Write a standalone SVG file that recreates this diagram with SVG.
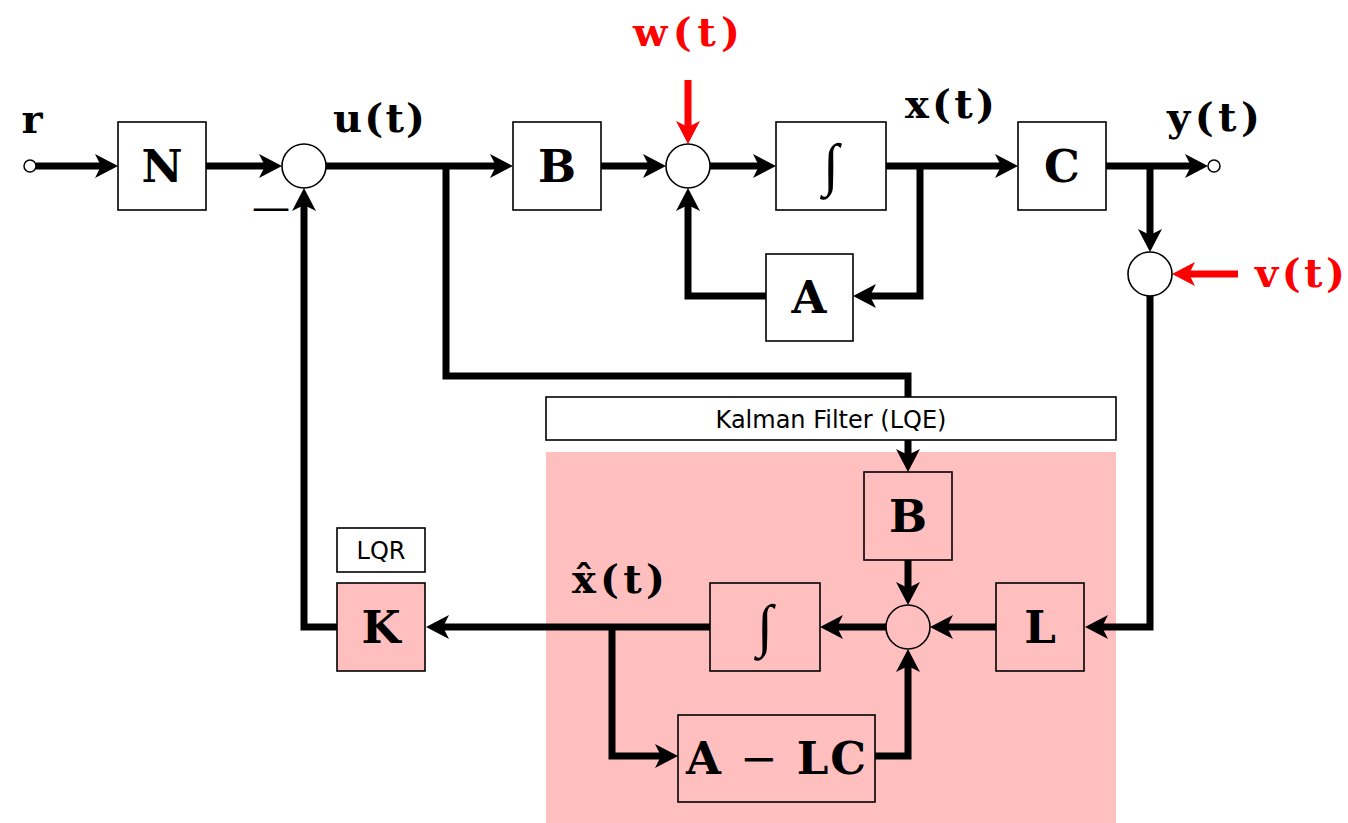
<svg xmlns="http://www.w3.org/2000/svg" width="1348" height="823" viewBox="0 0 1348 823">
<style>
.box{fill:#fff;stroke:#000;stroke-width:1.6}
.pbox{fill:#FFBFBF;stroke:#000;stroke-width:1.6}
.sum{fill:#fff;stroke:#000;stroke-width:1.6}
.psum{fill:#FFBFBF;stroke:#000;stroke-width:1.6}
.term{fill:#fff;stroke:#000;stroke-width:1.5}
.wa{fill:none;stroke:#000;stroke-width:7;stroke-linejoin:miter;marker-end:url(#ah)}
.ra{fill:none;stroke:#f00;stroke-width:7;marker-end:url(#rah)}
.bt{font-family:"DejaVu Serif",serif;font-weight:bold;font-size:45px;text-anchor:middle}
.lb{font-family:"DejaVu Serif",serif;font-weight:bold;font-size:40px}
.red{fill:#f00}
.int{font-family:"Liberation Serif",serif;font-size:58px;text-anchor:middle}
.sans{font-family:"DejaVu Sans",sans-serif;font-size:24px;text-anchor:middle}
.minus{font-family:"DejaVu Serif",serif;font-size:38px}
.thin{font-weight:normal}
</style>
<defs>
<marker id="ah" markerUnits="userSpaceOnUse" viewBox="-12 -13 25 26" markerWidth="25" markerHeight="26" refX="0" refY="0" orient="auto">
<path d="M12,0 L-11,-12 L-5,0 L-11,12 Z" fill="#000"/>
</marker>
<marker id="rah" markerUnits="userSpaceOnUse" viewBox="-12 -13 25 26" markerWidth="25" markerHeight="26" refX="0" refY="0" orient="auto">
<path d="M12,0 L-11,-12 L-5,0 L-11,12 Z" fill="#f00"/>
</marker>
</defs>
<rect id="kalman-region" x="546" y="452" width="570" height="371" fill="#FFBFBF"/>
<g id="connectors">
<path class="wa" d="M36,166 H106"/>
<path class="wa" d="M206,166 H270"/>
<path class="wa" d="M326,166 H501"/>
<path class="wa" d="M446,166 V376 H908 V460"/>
<path class="wa" d="M601,166 H654"/>
<path class="ra" d="M688,80 V132"/>
<path class="wa" d="M710,166 H764"/>
<path class="wa" d="M886,166 H1006"/>
<path class="wa" d="M920,166 V296 H865"/>
<path class="wa" d="M766,296 H688 V200"/>
<path class="wa" d="M1106,166 H1196"/>
<path class="wa" d="M1150,166 V240"/>
<path class="ra" d="M1238,274 H1184"/>
<path class="wa" d="M1150,296 V627 H1097"/>
<path class="wa" d="M996,627 H942"/>
<path class="wa" d="M908,560 V593"/>
<path class="wa" d="M886,627 H832"/>
<path class="wa" d="M710,627 H438"/>
<path class="wa" d="M612,627 V756 H666"/>
<path class="wa" d="M875,756 H908 V661"/>
<path class="wa" d="M337,627 H304 V200"/>
</g>
<g id="r-in"><circle class="term" cx="30" cy="166" r="6"/><text class="lb" x="32" y="133" text-anchor="middle">r</text></g>
<g id="N"><rect class="box" x="118" y="122" width="88" height="88"/><text class="bt" x="162" y="182">N</text></g>
<g id="sum1"><circle class="sum" cx="304" cy="166" r="22"/><text class="minus" x="252" y="220" textLength="38" lengthAdjust="spacingAndGlyphs">—</text></g>
<g id="u-label"><text class="lb" x="333" y="132" textLength="92" lengthAdjust="spacing">u(t)</text></g>
<g id="B"><rect class="box" x="513" y="122" width="88" height="88"/><text class="bt" x="557" y="182">B</text></g>
<g id="sum2"><circle class="sum" cx="688" cy="166" r="22"/></g>
<g id="w-label"><text class="lb red" x="633" y="46" textLength="107" lengthAdjust="spacing">w(t)</text></g>
<g id="integrator"><rect class="box" x="776" y="122" width="110" height="88"/><text class="int" x="831" y="184">∫</text></g>
<g id="x-label"><text class="lb" x="905" y="118" textLength="90" lengthAdjust="spacing">x(t)</text></g>
<g id="A"><rect class="box" x="766" y="254" width="87" height="87"/><text class="bt" x="809" y="313">A</text></g>
<g id="C"><rect class="box" x="1018" y="122" width="88" height="88"/><text class="bt" x="1062" y="182">C</text></g>
<g id="y-out"><circle class="term" cx="1214" cy="166" r="6"/><text class="lb" x="1167" y="131" textLength="93" lengthAdjust="spacing">y(t)</text></g>
<g id="sum3"><circle class="sum" cx="1150" cy="274" r="22"/></g>
<g id="v-label"><text class="lb red" x="1255" y="287" textLength="90" lengthAdjust="spacing">v(t)</text></g>
<g id="kalman-title"><rect class="box" x="546" y="397" width="570" height="43"/><text class="sans" x="831" y="428">Kalman Filter (LQE)</text></g>
<g id="B2"><rect class="pbox" x="864" y="472" width="88" height="88"/><text class="bt" x="908" y="532">B</text></g>
<g id="sum4"><circle class="psum" cx="908" cy="627" r="22"/></g>
<g id="L"><rect class="pbox" x="996" y="583" width="88" height="88"/><text class="bt" x="1040" y="643">L</text></g>
<g id="integrator2"><rect class="pbox" x="710" y="583" width="110" height="88"/><text class="int" x="765" y="645">∫</text></g>
<g id="xhat-label"><text class="lb" x="572" y="593" textLength="93" lengthAdjust="spacing">x̂(t)</text></g>
<g id="ALC"><rect class="pbox" x="678" y="715" width="197" height="87"/><text class="bt" x="776" y="774" textLength="180" lengthAdjust="spacing">A <tspan class="thin">−</tspan> LC</text></g>
<g id="LQR"><rect class="box" x="337" y="528" width="88" height="44"/><text class="sans" x="381" y="559">LQR</text></g>
<g id="K"><rect class="pbox" x="337" y="583" width="88" height="88"/><text class="bt" x="381" y="643">K</text></g>
</svg>
